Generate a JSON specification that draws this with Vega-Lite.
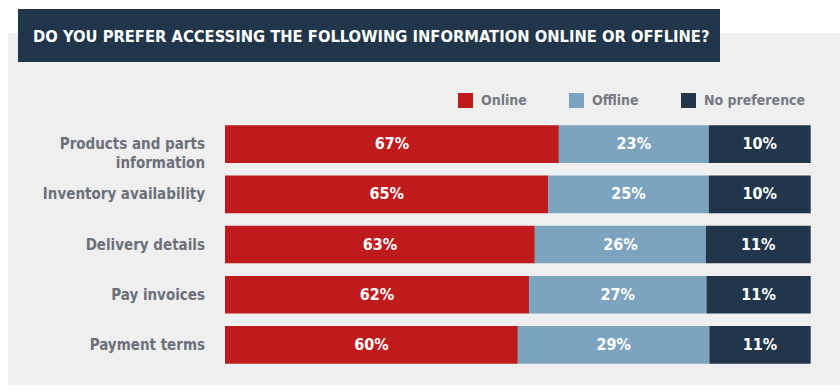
{
  "$schema": "https://vega.github.io/schema/vega-lite/v6.json",
  "width": 832,
  "height": 352,
  "autosize": {"type": "none"},
  "padding": {"left": 8, "top": 33, "right": 0, "bottom": 7},
  "background": "#ffffff",
  "config": {
    "view": {"fill": "#efefef", "stroke": null},
    "font": "DejaVu Sans Condensed"
  },
  "title": {
    "text": "DO YOU PREFER ACCESSING THE FOLLOWING INFORMATION ONLINE OR OFFLINE?",
    "anchor": "start",
    "orient": "top",
    "offset": -36,
    "dx": 25,
    "font": "DejaVu Sans Condensed",
    "fontSize": 16.4,
    "fontWeight": "bold",
    "color": "#ffffff"
  },
  "data": {
    "values": [
      {"item": "Products and parts\ninformation", "row": 1, "resp": "Online", "k": 1, "pct": 67, "share": 57.0},
      {"item": "Products and parts\ninformation", "row": 1, "resp": "Offline", "k": 2, "pct": 23, "share": 25.6},
      {"item": "Products and parts\ninformation", "row": 1, "resp": "No preference", "k": 3, "pct": 10, "share": 17.4},
      {"item": "Inventory availability", "row": 2, "resp": "Online", "k": 1, "pct": 65, "share": 55.2},
      {"item": "Inventory availability", "row": 2, "resp": "Offline", "k": 2, "pct": 25, "share": 27.4},
      {"item": "Inventory availability", "row": 2, "resp": "No preference", "k": 3, "pct": 10, "share": 17.4},
      {"item": "Delivery details", "row": 3, "resp": "Online", "k": 1, "pct": 63, "share": 52.9},
      {"item": "Delivery details", "row": 3, "resp": "Offline", "k": 2, "pct": 26, "share": 29.2},
      {"item": "Delivery details", "row": 3, "resp": "No preference", "k": 3, "pct": 11, "share": 17.9},
      {"item": "Pay invoices", "row": 4, "resp": "Online", "k": 1, "pct": 62, "share": 51.9},
      {"item": "Pay invoices", "row": 4, "resp": "Offline", "k": 2, "pct": 27, "share": 30.3},
      {"item": "Pay invoices", "row": 4, "resp": "No preference", "k": 3, "pct": 11, "share": 17.8},
      {"item": "Payment terms", "row": 5, "resp": "Online", "k": 1, "pct": 60, "share": 50.0},
      {"item": "Payment terms", "row": 5, "resp": "Offline", "k": 2, "pct": 29, "share": 32.7},
      {"item": "Payment terms", "row": 5, "resp": "No preference", "k": 3, "pct": 11, "share": 17.3}
    ]
  },
  "transform": [
    {"stack": "share", "groupby": ["item"], "sort": [{"field": "k", "order": "ascending"}], "as": ["x0", "x1"]},
    {"calculate": "(datum.x0 + datum.x1) / 2", "as": "xm"},
    {"calculate": "datum.pct + '%'", "as": "lbl"}
  ],
  "encoding": {
    "y": {
      "field": "item",
      "type": "nominal",
      "sort": {"field": "row", "op": "min"},
      "scale": {"range": [86, 337], "paddingInner": 0.25, "paddingOuter": 0.125},
      "axis": null
    }
  },
  "layer": [
    {
      "data": {"values": [{"t": "box"}]},
      "mark": {"type": "rect", "color": "#21364a", "clip": false},
      "encoding": {
        "x": {"value": 10},
        "x2": {"value": 712},
        "y": {"value": -24},
        "y2": {"value": 29}
      }
    },
    {
      "mark": {"type": "bar"},
      "encoding": {
        "x": {"field": "x0", "type": "quantitative", "scale": {"domain": [0, 100], "range": [217, 802.7]}, "axis": null},
        "x2": {"field": "x1"},
        "color": {
          "field": "resp",
          "type": "nominal",
          "scale": {"domain": ["Online", "Offline", "No preference"], "range": ["#c01b1c", "#7ca4be", "#21364a"]},
          "legend": {
            "title": null,
            "orient": "none",
            "direction": "horizontal",
            "legendX": 450,
            "legendY": 60,
            "padding": 0,
            "symbolType": "square",
            "symbolSize": 225,
            "symbolStrokeWidth": 0,
            "symbolOpacity": 1,
            "labelFont": "DejaVu Sans Condensed",
            "labelFontSize": 14,
            "labelFontWeight": "bold",
            "labelColor": "#767983",
            "labelOffset": 8,
            "columnPadding": 42
          }
        }
      }
    },
    {
      "mark": {"type": "text", "color": "#ffffff", "font": "DejaVu Sans Condensed", "fontSize": 16, "fontWeight": "bold", "align": "center", "baseline": "middle"},
      "encoding": {
        "x": {"field": "xm", "type": "quantitative"},
        "text": {"field": "lbl"},
        "detail": {"field": "resp"}
      }
    },
    {
      "transform": [{"filter": "datum.k == 1"}],
      "mark": {"type": "text", "color": "#6d707a", "font": "DejaVu Sans Condensed", "fontSize": 15, "fontWeight": "bold", "align": "right", "baseline": "middle", "dx": -20, "lineBreak": "\n", "lineHeight": 19},
      "encoding": {
        "x": {"datum": 0, "type": "quantitative"},
        "text": {"field": "item"}
      }
    }
  ]
}
